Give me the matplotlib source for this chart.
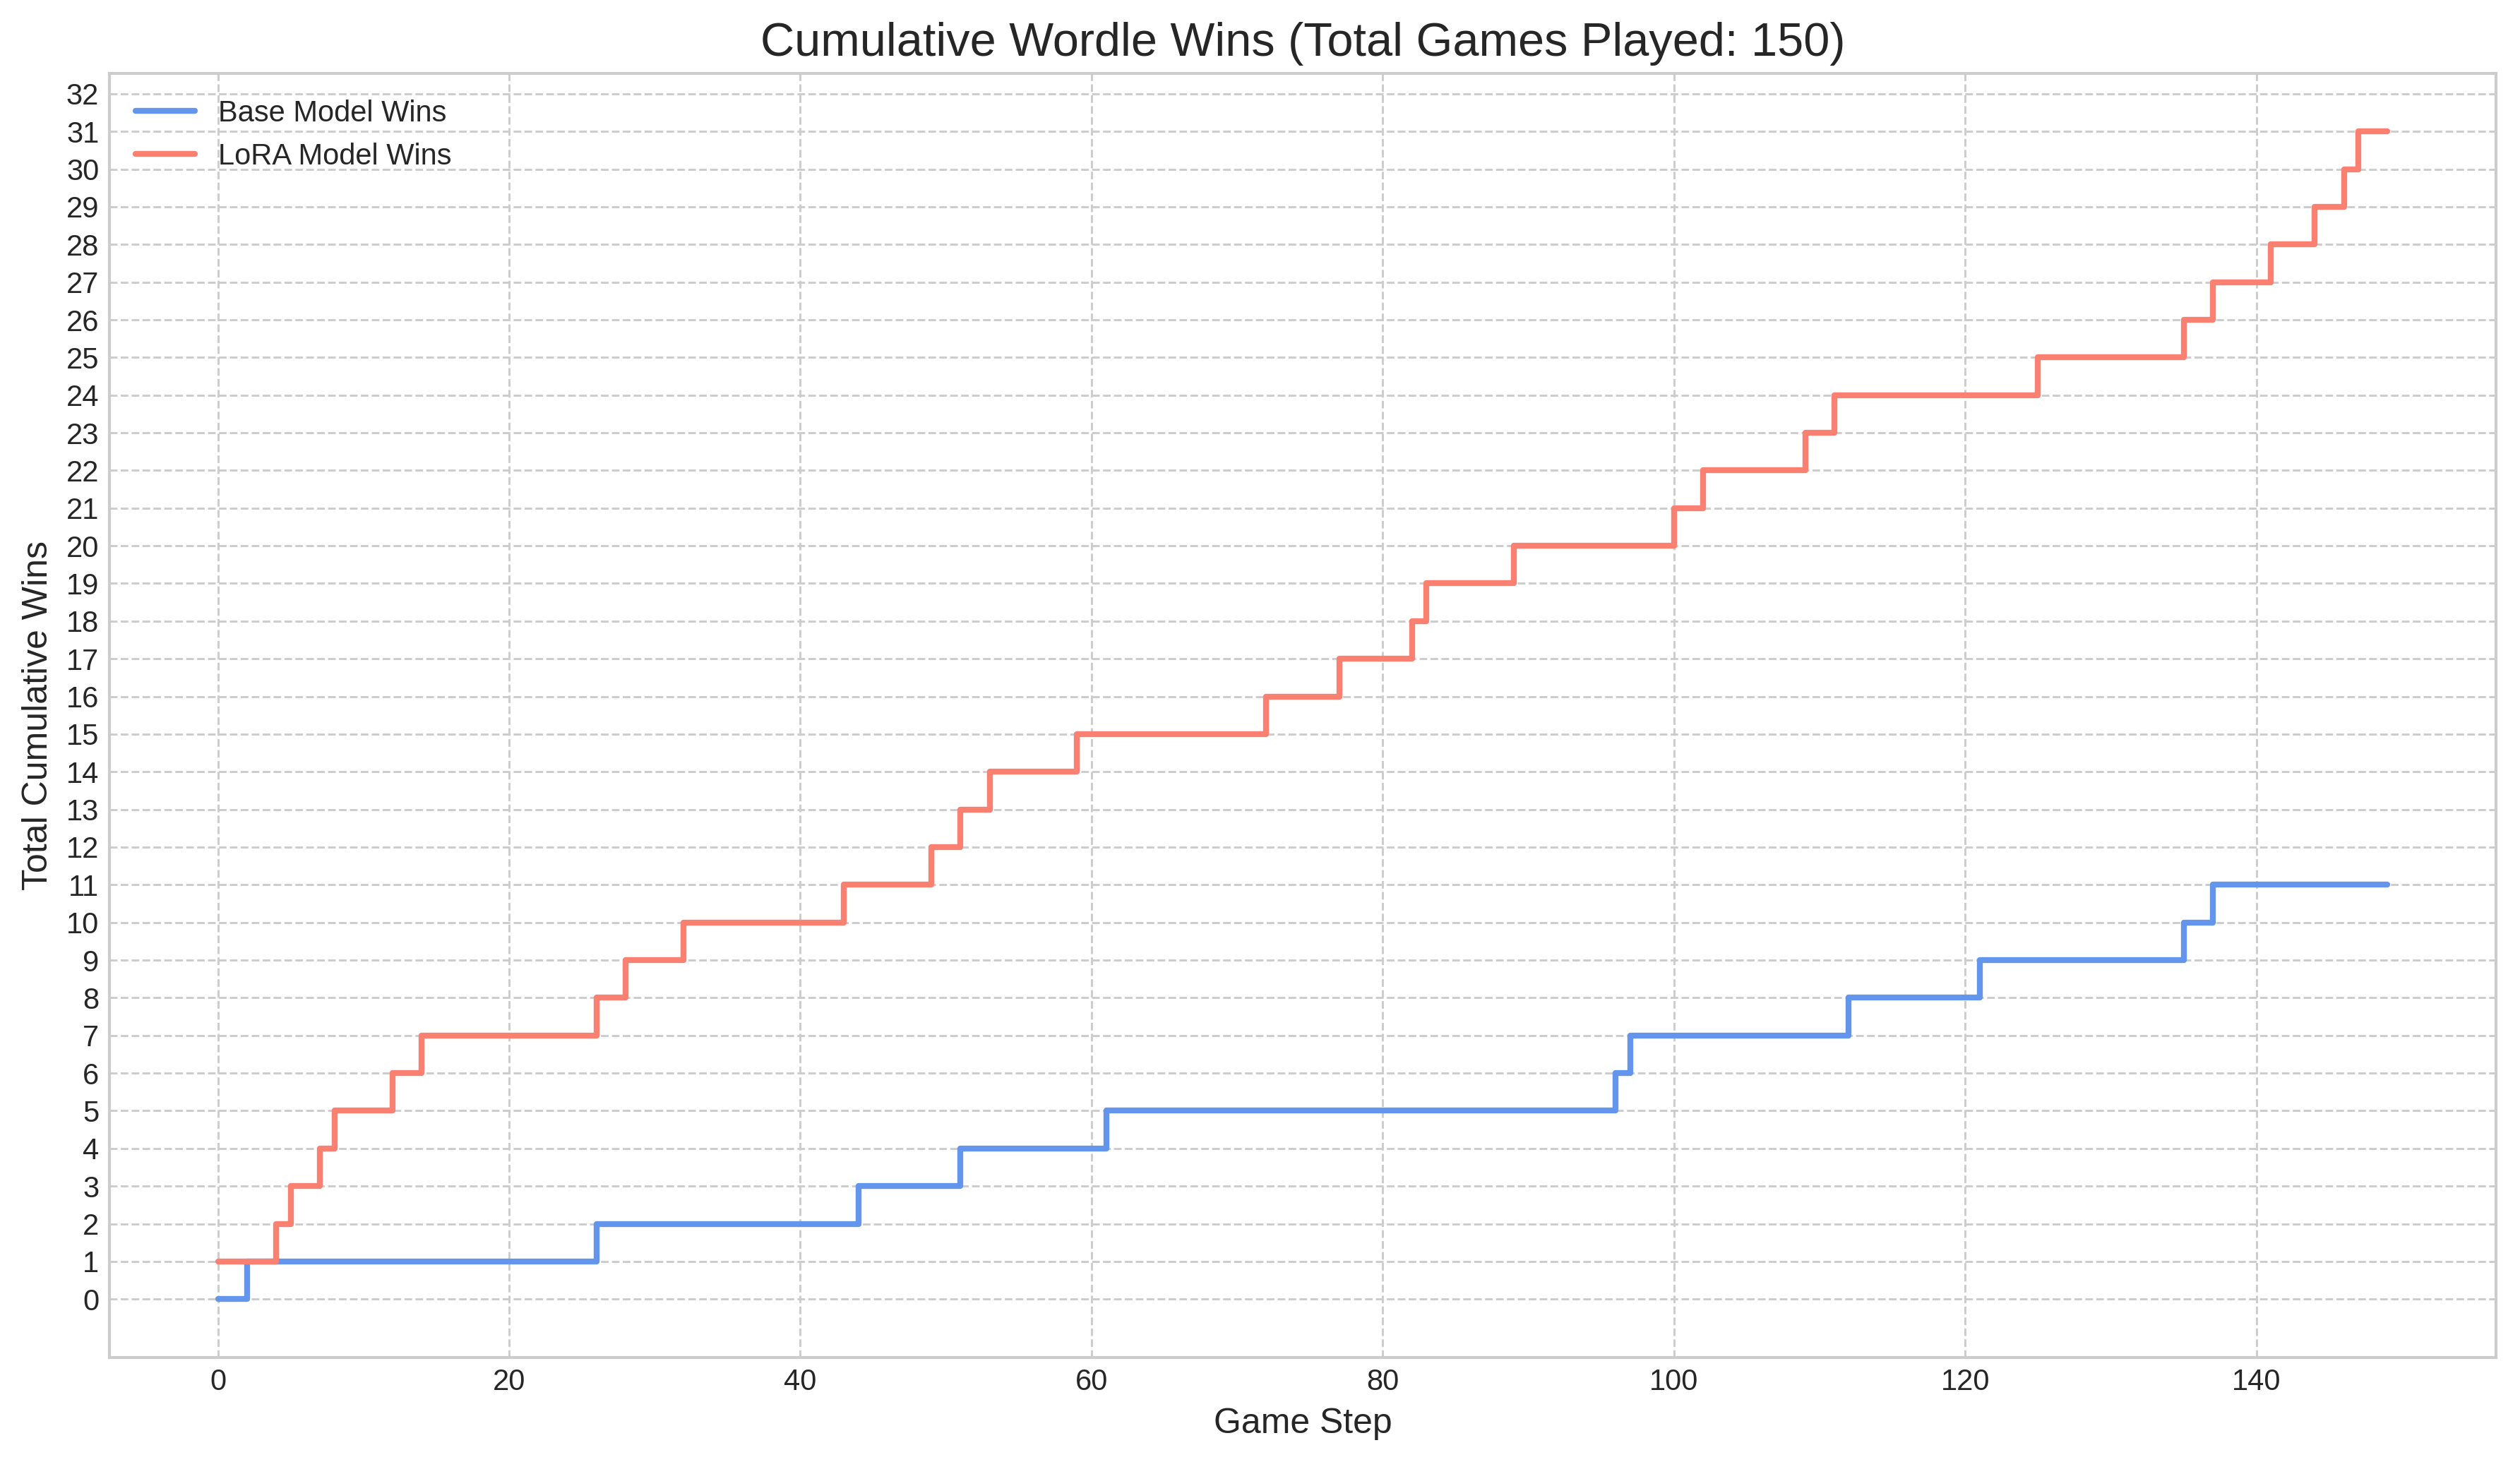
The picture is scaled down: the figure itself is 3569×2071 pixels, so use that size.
import numpy as np
import matplotlib
matplotlib.use("Agg")
import matplotlib.pyplot as plt

# game steps at which each model won
total_games = 150
base_win_steps = [2, 26, 44, 51, 61, 96, 97, 112, 121, 135, 137]
lora_win_steps = [0, 4, 5, 7, 8, 12, 14, 26, 28, 32, 43, 49, 51, 53, 59, 72, 77,
                  82, 83, 89, 100, 102, 109, 111, 125, 135, 137, 141, 144, 146, 147]

steps = np.arange(total_games)
base_wins = np.zeros(total_games)
base_wins[base_win_steps] = 1
lora_wins = np.zeros(total_games)
lora_wins[lora_win_steps] = 1
base_cum = np.cumsum(base_wins)
lora_cum = np.cumsum(lora_wins)

plt.style.use("seaborn-v0_8-whitegrid")
plt.rcParams['font.family'] = ['Liberation Sans', 'DejaVu Sans']

fig, ax = plt.subplots(figsize=(3569/300, 2071/300), dpi=300)
fig.subplots_adjust(left=0.0434, right=0.9905, top=0.950, bottom=0.0715)

ax.step(steps, base_cum, where='post', color='cornflowerblue', linewidth=2, label='Base Model Wins')
ax.step(steps, lora_cum, where='post', color='salmon', linewidth=2, label='LoRA Model Wins')

ax.set_yticks(np.arange(0, int(lora_cum.max()) + 2))
ax.grid(True, linestyle='--', color='#cccccc', linewidth=0.7)
for s in ax.spines.values():
    s.set_visible(True)
    s.set_color('#cccccc')
    s.set_linewidth(1)
ax.tick_params(labelsize=10, colors='#262626')

ax.set_title(f"Cumulative Wordle Wins (Total Games Played: {total_games})", fontsize=16)
ax.set_xlabel("Game Step", fontsize=12)
ax.set_ylabel("Total Cumulative Wins", fontsize=12)
ax.legend(loc='upper left', fontsize=10, frameon=False)

fig.savefig("out.png", dpi=300)
